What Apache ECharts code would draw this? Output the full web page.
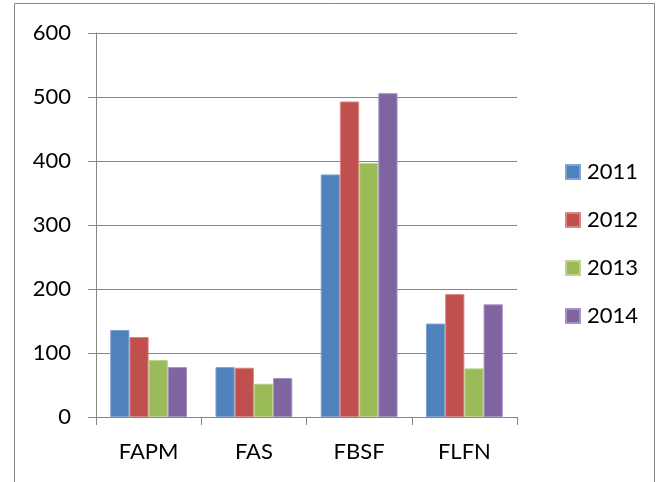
<!DOCTYPE html>
<html><head><meta charset="utf-8">
<script src="https://cdn.jsdelivr.net/npm/echarts@6/dist/echarts.min.js"></script>
<style>html,body{margin:0;padding:0;background:#fff}#c{width:665px;height:482px}</style>
</head><body><div id="c"></div>
<script>
const categories = ["FAPM", "FAS", "FBSF", "FLFN"];
const seriesNames = ["2011", "2012", "2013", "2014"];
const v2011 = [136, 78, 379, 146];
const v2012 = [125, 77, 493, 192];
const v2013 = [89, 52, 397, 76];
const v2014 = [78, 61, 506, 176];
const colors = ["#4F81BD", "#C0504D", "#9BBB59", "#8064A2"];
const borders = ["#7FA3D3", "#D88684", "#BDD38F", "#A592C0"];
const values = [v2011, v2012, v2013, v2014];
const font = "Lato, Liberation Sans, sans-serif";

const chart = echarts.init(document.getElementById('c'), null, {renderer: 'canvas'});
chart.setOption({
  animation: false,
  backgroundColor: '#fff',
  graphic: [{type: 'rect', shape: {x: 14.5, y: 3.5, width: 640, height: 500}, style: {fill: 'none', stroke: '#868686', lineWidth: 1}, z: -1}],
  grid: {left: 96, right: 148, top: 33, bottom: 65, containLabel: false},
  legend: {
    orient: 'vertical', left: 560, top: 155,
    itemWidth: 14, itemHeight: 14, itemGap: 24,
    icon: 'rect',
    data: seriesNames,
    textStyle: {fontFamily: font, fontSize: 22, color: '#000', lineHeight: 24, padding: [0, 0, 0, 2]}
  },
  xAxis: {
    type: 'category', data: categories,
    axisLine: {lineStyle: {color: '#868686', width: 1}},
    axisTick: {show: true, length: 8, lineStyle: {color: '#868686'}},
    axisLabel: {fontFamily: font, fontSize: 22, color: '#000', margin: 24}
  },
  yAxis: {
    type: 'value', min: 0, max: 600, interval: 100,
    axisLine: {show: true, lineStyle: {color: '#868686', width: 1}},
    axisTick: {show: true, length: 8, lineStyle: {color: '#868686'}},
    splitLine: {lineStyle: {color: '#868686', width: 1}},
    axisLabel: {fontFamily: font, fontSize: 22, color: '#000', margin: 25}
  },
  series: seriesNames.map((n, i) => ({
    name: n, type: 'bar', data: values[i],
    barGap: '0%', barCategoryGap: '27%',
    itemStyle: {color: colors[i], borderColor: borders[i], borderWidth: 1}
  }))
});
</script></body></html>
